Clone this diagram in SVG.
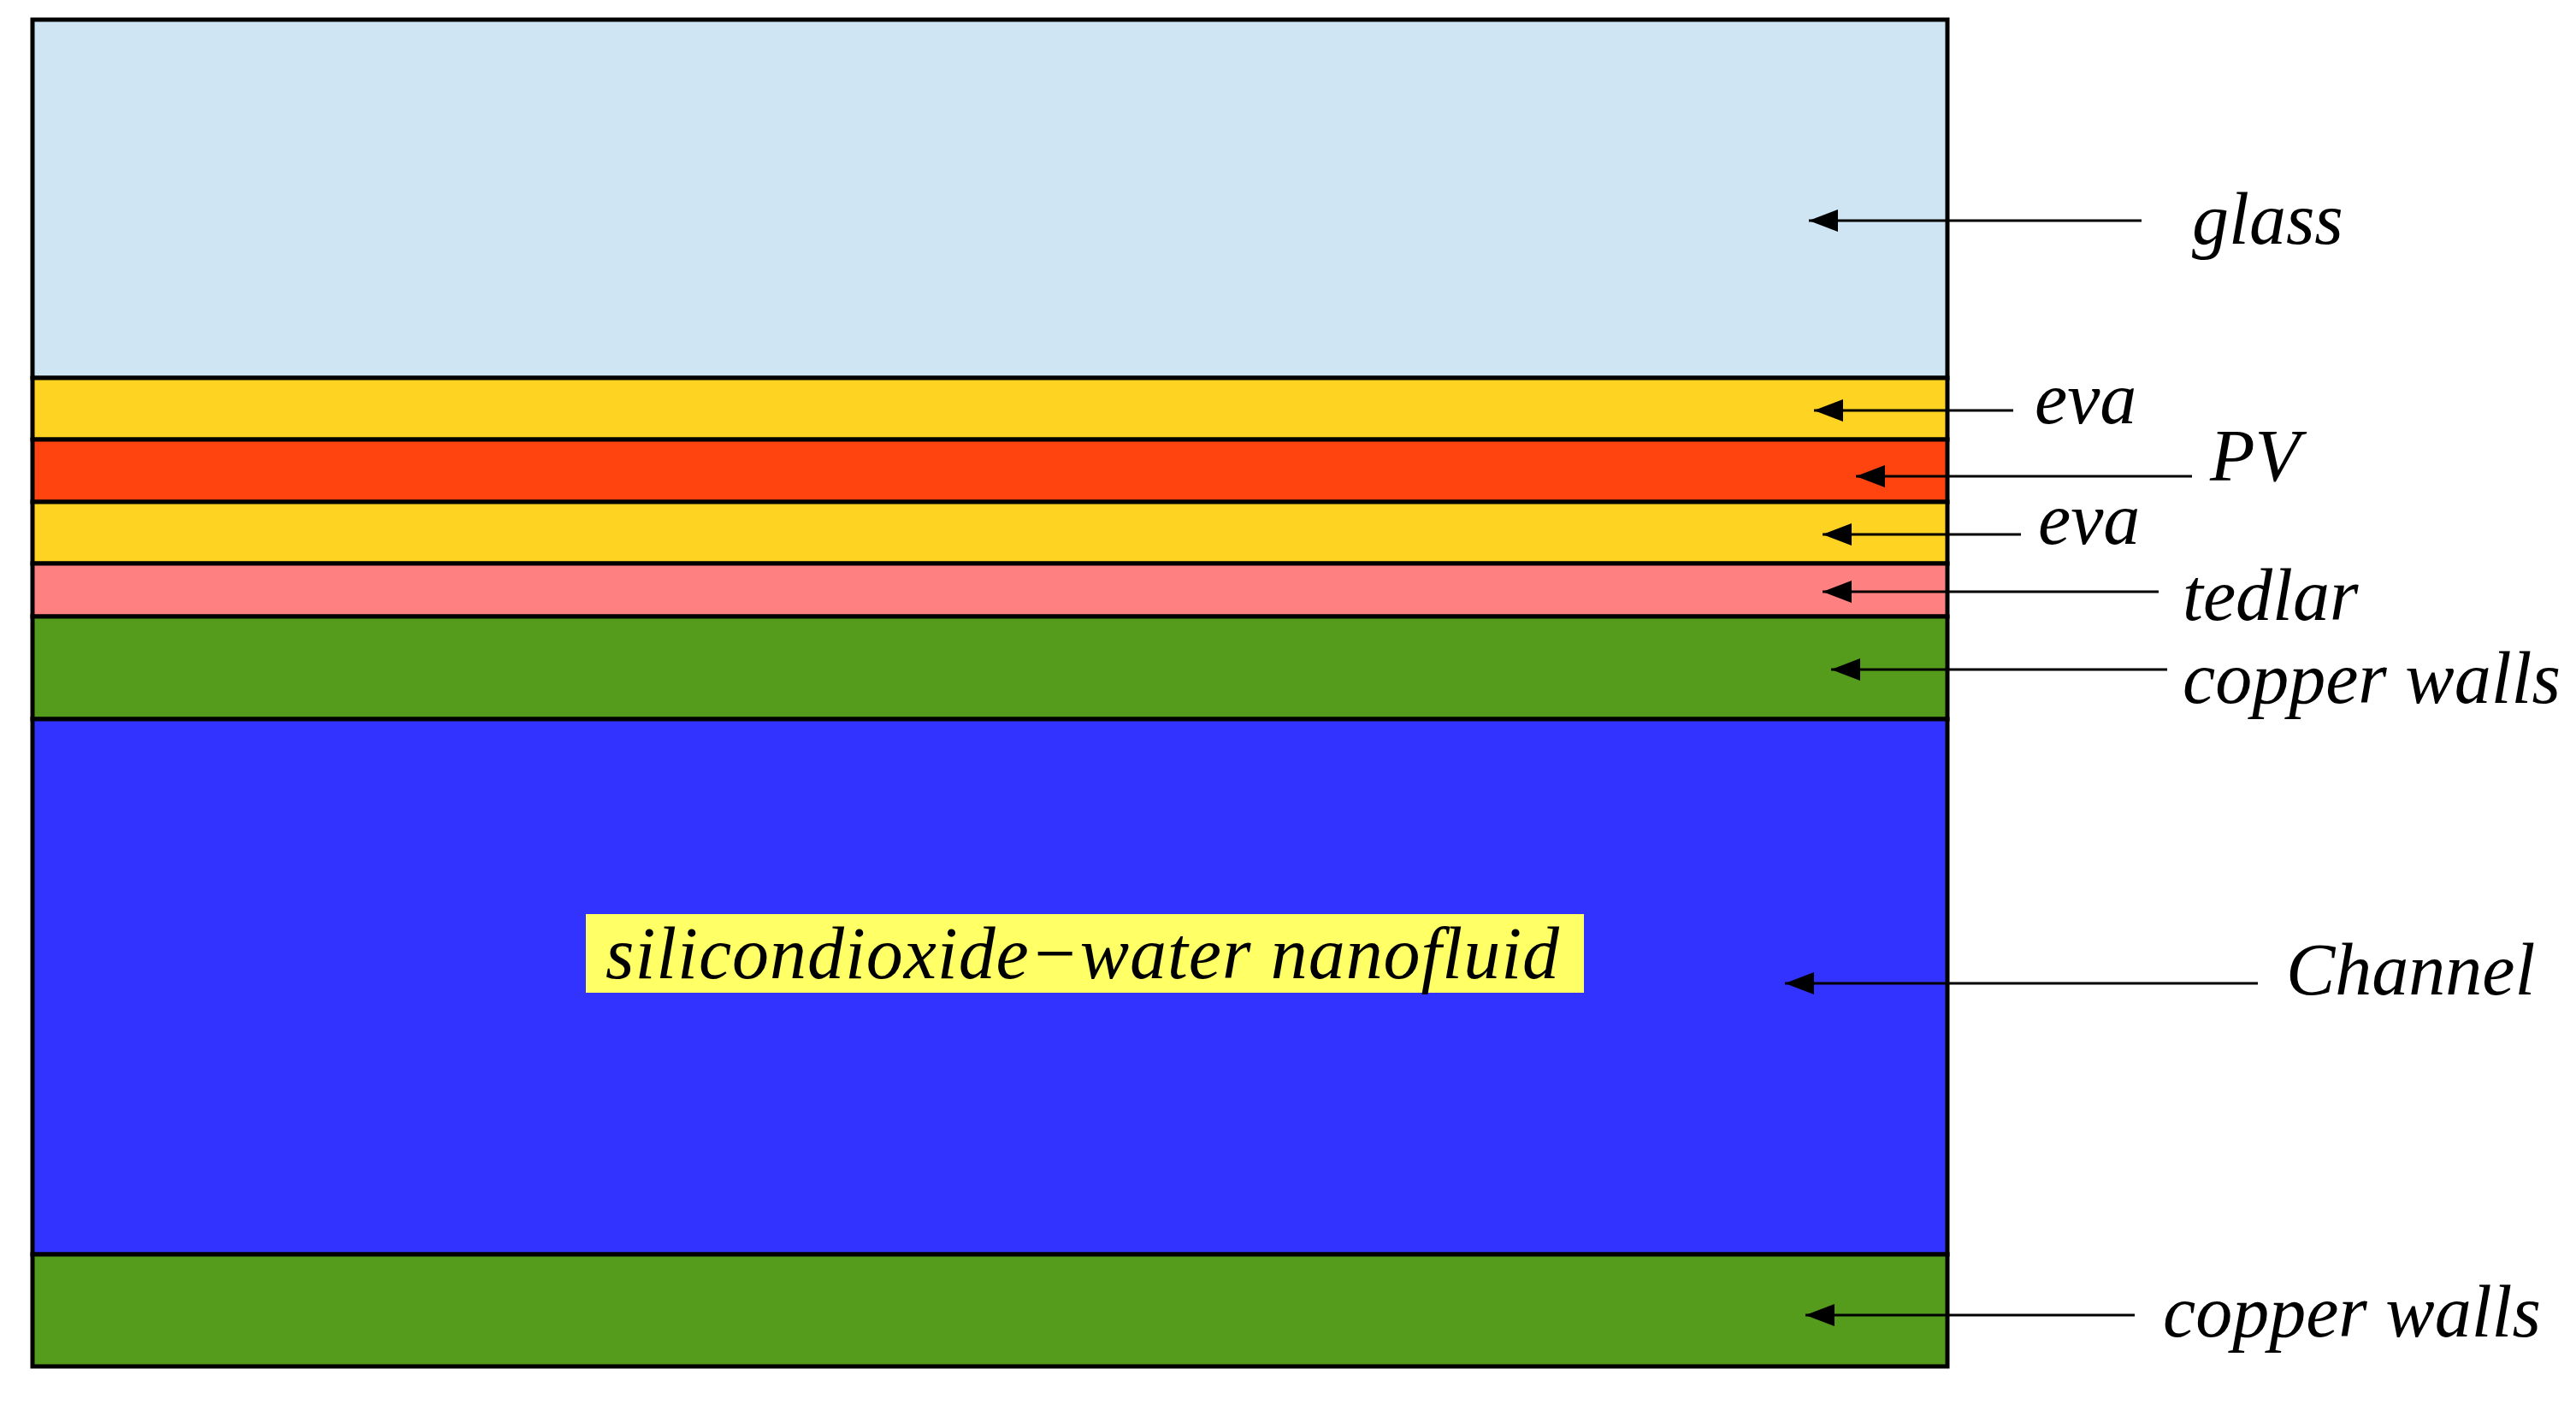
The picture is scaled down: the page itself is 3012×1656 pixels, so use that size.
<svg xmlns="http://www.w3.org/2000/svg" width="3012" height="1656" viewBox="0 0 3012 1656">
<style>
.l{stroke:#000;stroke-width:5}
.t{font-family:"Liberation Serif",serif;font-style:italic;font-size:86px;fill:#000}
.c{stroke:#000;stroke-width:3;fill:none;marker-end:url(#a)}
</style>
<defs><marker id="a" markerUnits="userSpaceOnUse" markerWidth="36" markerHeight="26" refX="34" refY="13" orient="auto"><path d="M0,0 L34,13 L0,26 Z" fill="#000"/></marker></defs>
<rect width="3012" height="1656" fill="#fff"/>
<g id="glass"><rect x="38" y="23" width="2239" height="419" fill="#cfe5f3" class="l"/></g>
<g id="eva1"><rect x="38" y="442" width="2239" height="72" fill="#fed321" class="l"/></g>
<g id="pv"><rect x="38" y="514" width="2239" height="73" fill="#ff4410" class="l"/></g>
<g id="eva2"><rect x="38" y="587" width="2239" height="72" fill="#fed321" class="l"/></g>
<g id="tedlar"><rect x="38" y="659" width="2239" height="62" fill="#ff8080" class="l"/></g>
<g id="copper1"><rect x="38" y="721" width="2239" height="120" fill="#559c1d" class="l"/></g>
<g id="channel"><rect x="38" y="841" width="2239" height="626" fill="#3333ff" class="l"/>
<rect x="685" y="1069" width="1167" height="92" fill="#ffff66"/>
<text x="708" y="1144" class="t" textLength="1115">silicondioxide−water nanofluid</text></g>
<g id="copper2"><rect x="38" y="1467" width="2239" height="131" fill="#559c1d" class="l"/></g>
<g id="connectors">
<line x1="2504" y1="258" x2="2115" y2="258" class="c"/>
<line x1="2354" y1="480" x2="2121" y2="480" class="c"/>
<line x1="2563" y1="557" x2="2170" y2="557" class="c"/>
<line x1="2363" y1="625" x2="2131" y2="625" class="c"/>
<line x1="2524" y1="692" x2="2131" y2="692" class="c"/>
<line x1="2534" y1="783" x2="2141" y2="783" class="c"/>
<line x1="2640" y1="1150" x2="2087" y2="1150" class="c"/>
<line x1="2496" y1="1538" x2="2111" y2="1538" class="c"/>
</g>
<g id="labels">
<text x="2563" y="285" class="t">glass</text>
<text x="2379" y="495" class="t">eva</text>
<text x="2584" y="562" class="t">PV</text>
<text x="2383" y="636" class="t">eva</text>
<text x="2552" y="725" class="t">tedlar</text>
<text x="2552" y="822" class="t">copper walls</text>
<text x="2673" y="1163" class="t">Channel</text>
<text x="2529" y="1563" class="t">copper walls</text>
</g>
</svg>
